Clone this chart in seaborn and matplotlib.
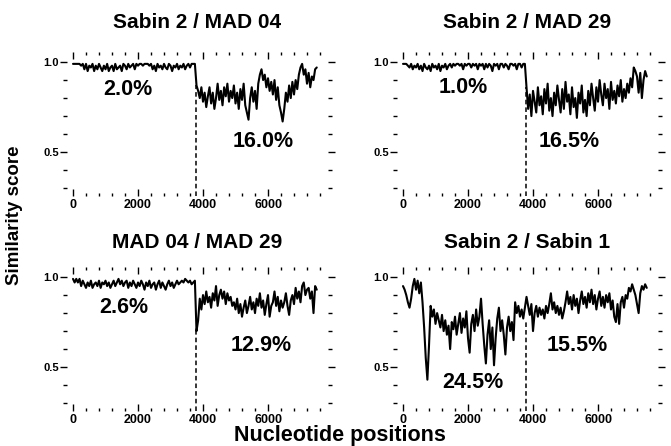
import matplotlib
matplotlib.use("Agg")
import numpy as np
import pandas as pd
import matplotlib.pyplot as plt
import seaborn as sns
from matplotlib.ticker import MultipleLocator

# similarity scores, one value every 50 nt starting at 0
nt_step = 50

s2_mad04 = [0.99, 0.99, 0.99, 0.99, 0.99, 0.98, 0.99,
            0.96, 0.99, 0.95, 0.98, 0.97, 0.99, 0.95, 0.98, 0.96, 0.99,
            0.97, 0.95, 0.98, 0.96, 0.99, 0.95, 0.97, 0.98, 0.95, 0.99,
            0.96, 0.97, 0.98, 0.95, 0.99, 0.98, 0.96, 0.99, 0.97, 0.98,
            0.99, 0.96, 0.99, 0.98,
            0.99, 0.99, 0.98, 0.99, 0.99, 0.99, 0.98, 0.99,
            0.96, 0.98, 0.95, 0.99, 0.97, 0.98, 0.96, 0.99, 0.97, 0.96,
            0.99, 0.98, 0.95, 0.98, 0.97, 0.99, 0.96, 0.98, 0.97, 0.99,
            0.96, 0.98, 0.99, 0.97,
            0.99, 0.99, 0.99,
            0.87, 0.84, 0.80, 0.86, 0.78, 0.83, 0.75, 0.81, 0.86, 0.77,
            0.83, 0.74, 0.80, 0.88, 0.79, 0.84, 0.76, 0.86, 0.81, 0.88,
            0.78, 0.84, 0.80, 0.87, 0.77, 0.83, 0.74, 0.85, 0.79, 0.88,
            0.76, 0.72, 0.68, 0.80, 0.86, 0.78, 0.84, 0.74, 0.88, 0.93,
            0.96, 0.90, 0.93, 0.86, 0.91, 0.84, 0.89, 0.82, 0.90, 0.79,
            0.86, 0.76, 0.72, 0.67, 0.74, 0.83, 0.78, 0.87, 0.80, 0.89,
            0.82, 0.90, 0.85, 0.93, 0.97, 0.99, 0.93, 0.96, 0.88, 0.94,
            0.86, 0.92, 0.90, 0.96, 0.97]

s2_mad29 = [0.99, 0.99, 0.99, 0.98,
            0.97, 0.99, 0.96, 0.98, 0.97, 0.99, 0.96, 0.98, 0.95, 0.99,
            0.97, 0.96, 0.98, 0.95, 0.99, 0.97, 0.98, 0.96, 0.99, 0.95,
            0.98, 0.97, 0.99, 0.96, 0.98, 0.99, 0.97, 0.99, 0.98, 0.99,
            0.99, 0.98, 0.99, 0.96, 0.99, 0.98, 0.99,
            0.99, 0.97, 0.99, 0.98, 0.99, 0.96, 0.99, 0.98, 0.99, 0.96,
            0.99, 0.97, 0.99, 0.98, 0.95, 0.99, 0.98, 0.99, 0.96, 0.99,
            0.99, 0.97, 0.99, 0.98, 0.96, 0.99, 0.99, 0.98, 0.99, 0.96,
            0.99, 0.99, 0.97, 0.99, 0.99,
            0.86, 0.74, 0.82, 0.70, 0.84, 0.78, 0.72, 0.86, 0.76, 0.81,
            0.71, 0.85, 0.77, 0.88, 0.73, 0.80, 0.70, 0.83, 0.76, 0.87,
            0.79, 0.72, 0.85, 0.74, 0.89, 0.78, 0.82, 0.71, 0.86, 0.75,
            0.80, 0.69, 0.83, 0.77, 0.87, 0.72, 0.79, 0.70, 0.84, 0.76,
            0.88, 0.80, 0.73, 0.86, 0.78, 0.90, 0.82, 0.76, 0.88, 0.80,
            0.85, 0.74, 0.89, 0.79, 0.84, 0.77, 0.87, 0.81, 0.90, 0.78,
            0.85, 0.80, 0.88, 0.83, 0.91, 0.86, 0.97, 0.95, 0.92, 0.83,
            0.94, 0.80, 0.90, 0.95, 0.92]

mad04_mad29 = [0.99, 0.97, 0.99, 0.97, 0.99,
               0.95, 0.98, 0.96, 0.94, 0.97, 0.95, 0.98, 0.94, 0.96, 0.97,
               0.95, 0.98, 0.94, 0.97, 0.96, 0.98, 0.95, 0.97, 0.94, 0.96,
               0.98, 0.95, 0.97, 0.99, 0.96, 0.98, 0.95, 0.97, 0.98, 0.94,
               0.97, 0.95, 0.98, 0.96, 0.94, 0.97, 0.95, 0.98, 0.96, 0.93,
               0.97, 0.95, 0.98, 0.94, 0.96, 0.97, 0.93, 0.96, 0.98, 0.94,
               0.97, 0.95, 0.93, 0.96, 0.98, 0.95, 0.97, 0.94, 0.96, 0.98,
               0.96, 0.97, 0.98, 0.97, 0.99, 0.98, 0.97, 0.98, 0.96, 0.97,
               0.98,
               0.70, 0.76, 0.88, 0.82, 0.90, 0.85, 0.92, 0.86, 0.89, 0.83,
               0.91, 0.87, 0.95, 0.84, 0.90, 0.93, 0.88, 0.92, 0.85, 0.91,
               0.87, 0.89, 0.84, 0.86, 0.82, 0.88, 0.80, 0.85, 0.78, 0.83,
               0.87, 0.80, 0.84, 0.89, 0.82, 0.86, 0.80, 0.88, 0.84, 0.91,
               0.83, 0.87, 0.79, 0.85, 0.90, 0.78, 0.84, 0.86, 0.92, 0.84,
               0.89, 0.81, 0.87, 0.83, 0.86, 0.91, 0.84, 0.79, 0.87, 0.90,
               0.85, 0.94, 0.88, 0.92, 0.86, 0.95, 0.97, 0.90, 0.93, 0.94,
               0.88, 0.92, 0.80, 0.95, 0.93]

s2_sabin1 = [0.95, 0.93, 0.90, 0.86, 0.83, 0.88, 0.95, 0.99, 0.93, 0.98,
             0.91, 0.97, 0.86, 0.72, 0.55, 0.43, 0.62, 0.84, 0.78, 0.82,
             0.74, 0.80, 0.76, 0.72, 0.79, 0.70, 0.76, 0.68, 0.73, 0.60,
             0.75, 0.71, 0.78, 0.68, 0.74, 0.80, 0.69, 0.77, 0.72, 0.81,
             0.66, 0.58, 0.74, 0.79, 0.70, 0.82, 0.73, 0.78, 0.88, 0.74,
             0.62, 0.52, 0.68, 0.76, 0.60, 0.72, 0.51, 0.66, 0.77, 0.83,
             0.70, 0.76, 0.68, 0.57, 0.72, 0.78, 0.70, 0.75, 0.65, 0.86,
             0.80, 0.84, 0.78, 0.82, 0.77, 0.83,
             0.89, 0.84, 0.79, 0.85, 0.70, 0.80, 0.84, 0.78, 0.83, 0.79,
             0.82, 0.77, 0.84, 0.80, 0.85, 0.91, 0.82, 0.86, 0.80, 0.84,
             0.79, 0.83, 0.77, 0.81, 0.86, 0.92, 0.85, 0.89, 0.82, 0.90,
             0.84, 0.88, 0.80, 0.87, 0.92, 0.85, 0.89, 0.83, 0.91, 0.86,
             0.93, 0.85, 0.90, 0.82, 0.88, 0.92, 0.84, 0.89, 0.83, 0.90,
             0.86, 0.91, 0.82, 0.87, 0.78, 0.75, 0.85, 0.74, 0.86, 0.89,
             0.83, 0.90, 0.88, 0.94, 0.92, 0.96, 0.93, 0.90, 0.85, 0.80,
             0.91, 0.95, 0.93, 0.96, 0.94]

titles = ["Sabin 2 / MAD 04", "Sabin 2 / MAD 29", "MAD 04 / MAD 29", "Sabin 2 / Sabin 1"]
series = [s2_mad04, s2_mad29, mad04_mad29, s2_sabin1]
breakpoint_nt = 3780
dash_tops = [0.87, 0.86, 0.70, 0.76]
# (text, x in nt, score)
labels = [
    [("2.0%", 1690, 0.845), ("16.0%", 5850, 0.556)],
    [("1.0%", 1850, 0.86), ("16.5%", 5110, 0.556)],
    [("2.6%", 1570, 0.83), ("12.9%", 5780, 0.62)],
    [("15.5%", 5350, 0.62), ("24.5%", 2150, 0.417)],
]

sns.set_style("white")
plt.rcParams['font.family'] = ['Liberation Sans', 'DejaVu Sans']
plt.rcParams['font.weight'] = 'bold'
# plain black for every text and tick, like the printed figure
plt.rcParams['text.color'] = 'black'
plt.rcParams['xtick.color'] = 'black'
plt.rcParams['ytick.color'] = 'black'
plt.rcParams['axes.labelcolor'] = 'black'

W, H = 671, 446
fig = plt.figure(figsize=(W / 100, H / 100), dpi=100)

# axes boxes in pixels: left, top, right, bottom
boxes = [(67, 52, 328, 196), (397, 52, 658, 196),
         (67, 267, 328, 411), (397, 267, 658, 411)]
title_pads = [17, 17, 14, 14]

for i, (l, t, r, b) in enumerate(boxes):
    ax = fig.add_axes([l / W, 1 - b / H, (r - l) / W, (b - t) / H])
    vals = series[i]
    df = pd.DataFrame({"pos": [k * nt_step for k in range(len(vals))], "score": vals})
    sns.lineplot(data=df, x="pos", y="score", ax=ax, color="black", linewidth=1.5)
    ax.vlines(breakpoint_nt, 0.256, dash_tops[i], colors="black",
              linestyles=(0, (3, 2)), linewidth=1.1)
    for txt, xx, yy in labels[i]:
        ax.text(xx, yy, txt, ha="center", va="center", fontsize=15.5,
                fontweight="bold", color="black")

    ax.set_xlim(-185, 7846)
    ax.set_ylim(0.256, 1.056)
    ax.set_xticks([0, 2000, 4000, 6000])
    ax.set_xticklabels(["0", "2000", "4000", "6000"], fontsize=9, fontweight="bold")
    ax.xaxis.set_minor_locator(MultipleLocator(400))
    ax.set_yticks([0.5, 1.0])
    ax.set_yticklabels(["0.5", "1.0"], fontsize=8, fontweight="bold")
    ax.yaxis.set_minor_locator(MultipleLocator(0.1))
    ax.tick_params(axis="x", which="both", top=True, bottom=True, direction="in",
                   pad=2, width=1.0, colors="black")
    ax.tick_params(axis="x", which="major", length=5)
    ax.tick_params(axis="x", which="minor", length=2)
    ax.tick_params(axis="y", which="both", left=True, right=True, direction="out",
                   pad=1, width=1.0, colors="black")
    ax.tick_params(axis="y", which="major", length=5)
    ax.tick_params(axis="y", which="minor", length=3)
    for s in ax.spines.values():
        s.set_visible(False)
    ax.set_xlabel("")
    ax.set_ylabel("")
    ax.set_title(titles[i], fontsize=15, fontweight="bold", pad=title_pads[i],
                 color="black")

fig.text(15 / W, 1 - 215 / H, "Similarity score", rotation=90, ha="center", va="center",
         fontsize=13.5, fontweight="bold", color="black")
fig.text(340 / W, 1 - 436 / H, "Nucleotide positions", ha="center", va="center",
         fontsize=15.5, fontweight="bold", color="black")

fig.savefig("out.png", dpi=100)
